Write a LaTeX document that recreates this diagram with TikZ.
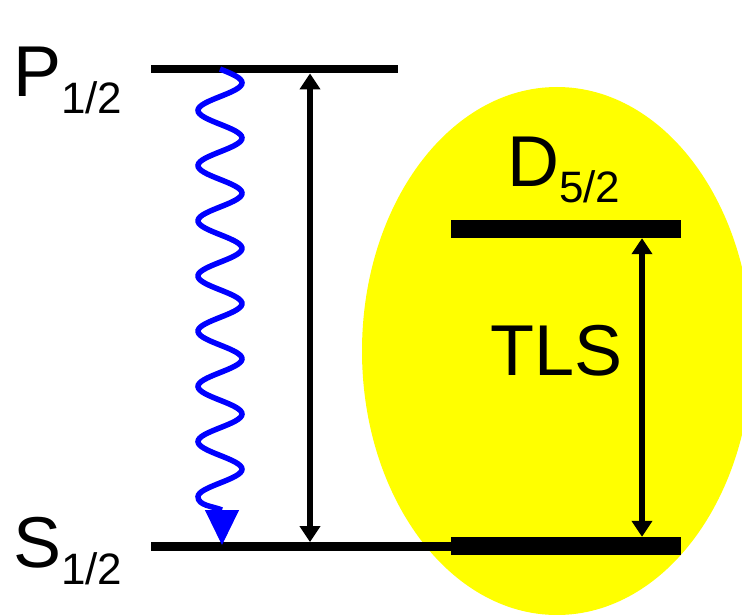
\documentclass[tikz,border=0pt]{standalone}
\usepackage{fontspec}
\setmainfont{Liberation Sans}
\usetikzlibrary{arrows.meta}
\definecolor{lvYellow}{HTML}{FFFF00}
\definecolor{lvBlue}{HTML}{0000FF}
\newcommand\lvlfont{\fontsize{72}{80}\selectfont}
\newcommand\lvlsub{\fontsize{44}{48}\selectfont}
\newcommand\termname[2]{#1\raisebox{-17pt}{\lvlsub #2}}
\tikzset{
  lv/thin/.style={fill=black, inner sep=0pt, minimum height=8.5pt},
  lv/thick/.style={fill=black, inner sep=0pt, minimum height=18pt,
    minimum width=230pt},
  lv/label/.style={font=\lvlfont, inner sep=0pt, anchor=base west},
  lv/trans/.style={{Triangle[length=16pt,width=20pt]}-{Triangle[length=16pt,width=20pt]},
    line width=6pt},
  % spontaneous decay, drawn as a sine wave
  lv/wave/.style={draw=lvBlue, line width=5.5pt},
  lv/wavehead/.style={-{Triangle[length=35pt,width=34pt]}, draw=lvBlue,
    fill=lvBlue, line width=1pt},
}

\begin{document}
\begin{tikzpicture}[x=1pt, y=-1pt]
\useasboundingbox (0,0) rectangle (742,615);

% two-level system
\fill[lvYellow] (557,351) ellipse [x radius=195, y radius=264];

\node[lv/thin, minimum width=247pt] (P) at (274.5,69) {};
\node[lv/thin, minimum width=300pt] (S) at (301,546.5) {};
\node[lv/thick] (Sr) at (566,546) {};
\node[lv/thick] (D) at (566,229) {};

\node[lv/label] (Plabel) at (13,97) {\termname{P}{1/2}};
\node[lv/label] (Slabel) at (13,567) {\termname{S}{1/2}};
\node[lv/label] (Dlabel) at (507,186) {\termname{D}{5/2}};
\node[lv/label] (tlsLabel) at (490,375) {TLS};

\coordinate (axL) at (310,0);
\coordinate (axR) at (642,0);
\draw[lv/trans] (axL |- P.south) -- (axL |- S.north);
\draw[lv/trans] (axR |- D.south) -- (axR |- Sr.north);

\coordinate (wtop) at (220,69);
\coordinate (wbase) at (222,510);
\coordinate (wtip) at (222,545);
\draw[lv/wave, shift={(wtop)}]
  plot[domain=0:7.75, samples=250, smooth] ({22*sin(\x*360)}, {55.2*\x})
  .. controls +(0,9) and +(-10,-4) .. (wbase);
\draw[lv/wavehead] (wbase) -- (wtip);
\end{tikzpicture}
\end{document}
